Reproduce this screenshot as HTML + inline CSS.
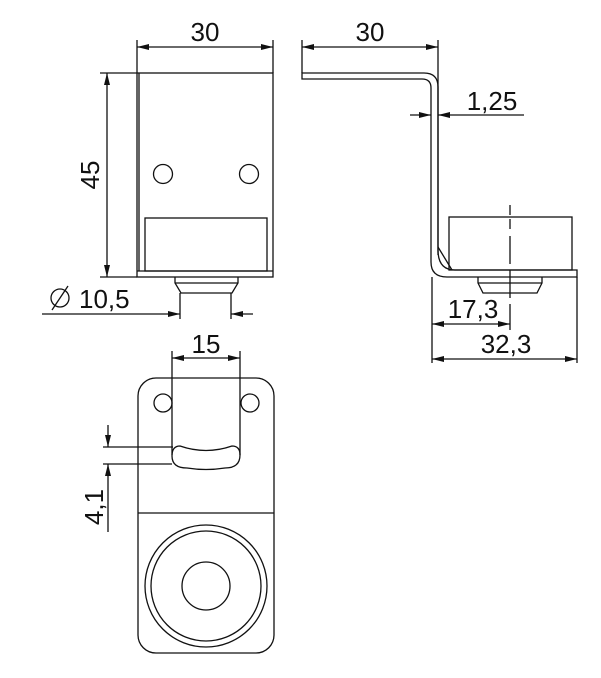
<!DOCTYPE html>
<html><head><meta charset="utf-8"><style>
html,body{margin:0;padding:0;background:#fff;}
svg{display:block;}
text{font-family:"Liberation Sans",sans-serif;font-size:26px;fill:#111;}
</style></head><body>
<svg width="601" height="678" viewBox="0 0 601 678" xmlns="http://www.w3.org/2000/svg">
<defs>
<marker id="a" viewBox="0 0 12 6" refX="12" refY="3" markerWidth="12" markerHeight="6" orient="auto-start-reverse" markerUnits="userSpaceOnUse">
<path d="M0,0 L12,3 L0,6 Z" fill="#111"/>
</marker>
</defs>
<g fill="none" stroke="#111" stroke-width="1.3">
<line x1="137" y1="40" x2="137" y2="73"/>
<line x1="273" y1="40" x2="273" y2="73"/>
<line x1="137" y1="47" x2="273" y2="47" marker-start="url(#a)" marker-end="url(#a)"/>
<rect x="137" y="73" width="136" height="204"/>
<line x1="139" y1="73" x2="139" y2="271"/>
<line x1="137" y1="271" x2="273" y2="271"/>
<circle cx="163" cy="174" r="9.5"/>
<circle cx="249" cy="174" r="9.5"/>
<rect x="145" y="218" width="122" height="53"/>
<line x1="100" y1="73" x2="137" y2="73"/>
<line x1="100" y1="277" x2="137" y2="277"/>
<line x1="107" y1="73" x2="107" y2="277" marker-start="url(#a)" marker-end="url(#a)"/>
<path d="M175,277 V283 L181,293 H232 L238,283 V277"/>
<line x1="175" y1="283" x2="238" y2="283"/>
<line x1="180" y1="293" x2="180" y2="319"/>
<line x1="231" y1="293" x2="231" y2="319"/>
<line x1="42" y1="314" x2="180" y2="314" marker-end="url(#a)"/>
<line x1="231" y1="314" x2="253" y2="314" marker-start="url(#a)"/>
<circle cx="60" cy="298" r="9"/>
<line x1="52" y1="310" x2="68" y2="286"/>

<line x1="302" y1="40" x2="302" y2="73"/>
<line x1="438" y1="40" x2="438" y2="255"/>
<line x1="302" y1="47" x2="438" y2="47" marker-start="url(#a)" marker-end="url(#a)"/>
<path d="M302,73 H424 Q438,73 438,87 V250 Q438,270 455,270 H577 V277 H447 Q431,277 431,262 V88 Q431,79 422,79 H302 Z"/>
<rect x="449" y="217" width="123" height="53"/>
<line x1="438" y1="247" x2="452" y2="270"/>
<line x1="510" y1="205" x2="510" y2="230" stroke-dasharray="10,4"/>
<line x1="510" y1="236" x2="510" y2="330" stroke-dasharray="28,6"/>
<path d="M478,277 V283 L483,293 H537 L542,283 V277"/>
<line x1="478" y1="283" x2="542" y2="283"/>
<line x1="410" y1="115" x2="431" y2="115" marker-end="url(#a)"/>
<line x1="438" y1="115" x2="524" y2="115" marker-start="url(#a)"/>
<line x1="432" y1="277" x2="432" y2="363"/>
<line x1="577" y1="277" x2="577" y2="363"/>
<line x1="432" y1="324" x2="510" y2="324" marker-start="url(#a)" marker-end="url(#a)"/>
<line x1="432" y1="359" x2="577" y2="359" marker-start="url(#a)" marker-end="url(#a)"/>

<rect x="138" y="378" width="136" height="275" rx="18" ry="18"/>
<line x1="138" y1="513" x2="274" y2="513"/>
<circle cx="163" cy="403" r="9"/>
<circle cx="250" cy="403" r="9"/>
<line x1="172" y1="351" x2="172" y2="455"/>
<line x1="240" y1="351" x2="240" y2="455"/>
<line x1="172" y1="358" x2="240" y2="358" marker-start="url(#a)" marker-end="url(#a)"/>
<path d="M180,446 Q206,455 232,446 Q240,446 240,455 Q240,468 225,468 Q206,471 187,468 Q172,468 172,456 Q172,446 180,446 Z"/>
<line x1="103" y1="447" x2="173" y2="447"/>
<line x1="103" y1="464" x2="172" y2="464"/>
<line x1="108" y1="425" x2="108" y2="447" marker-end="url(#a)"/>
<line x1="108" y1="464" x2="108" y2="532" marker-start="url(#a)"/>
<circle cx="206" cy="586" r="61"/>
<circle cx="206" cy="586" r="55"/>
<circle cx="206" cy="586" r="24"/>
</g>
<g>
<text x="205" y="41" text-anchor="middle">30</text>
<text x="0" y="0" text-anchor="middle" transform="translate(99,175) rotate(-90)">45</text>
<text x="79" y="308">10,5</text>
<text x="370" y="41" text-anchor="middle">30</text>
<text x="492" y="110" text-anchor="middle">1,25</text>
<text x="473" y="318" text-anchor="middle">17,3</text>
<text x="506" y="353" text-anchor="middle">32,3</text>
<text x="206" y="353" text-anchor="middle">15</text>
<text x="0" y="0" text-anchor="middle" transform="translate(103,507) rotate(-90)">4,1</text>
</g>
</svg>
</body></html>
